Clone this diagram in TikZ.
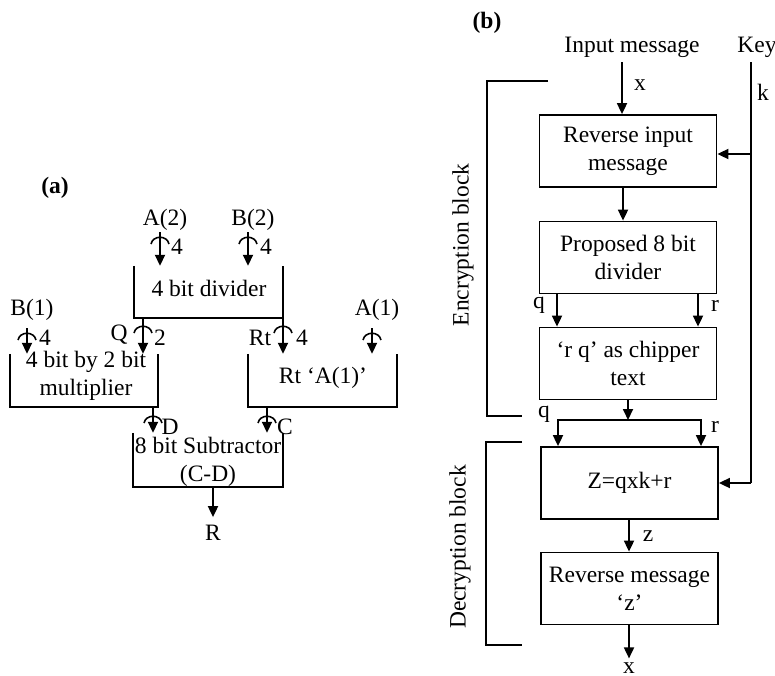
\documentclass[tikz,border=0pt]{standalone}
\usepackage{fontspec}
\setmainfont{Liberation Serif}
\usetikzlibrary{arrows.meta,calc}
\begin{document}
\begin{tikzpicture}[x=1pt,y=-1pt,
  every node/.style={font=\fontsize{23.5}{28}\selectfont, inner sep=0pt},
  ln/.style={line width=1.8pt},
  arr/.style={line width=1.8pt,-{Triangle[length=11pt,width=10pt]}},
  dblarr/.style={line width=1.8pt,{Triangle[length=11pt,width=10pt]}-{Triangle[length=11pt,width=10pt]}},
  bbox/.style={draw, line width=1.8pt, minimum width=177pt, minimum height=72pt, align=center},
  lbl/.style={font=\fontsize{23.5}{28}\selectfont\bfseries},
  bus/.style={line width=1.6pt}
]
\useasboundingbox (0,0) rectangle (775,675);
\newcommand\ushape[1]{\draw[ln] (#1.north west) -- (#1.south west) -- (#1.south east) -- (#1.north east);}
\newcommand\busmark[1]{\draw[bus] ($(#1)+(-9,6)$) .. controls ($(#1)+(-7,-3)$) and ($(#1)+(7,-3)$) .. ($(#1)+(9,6)$);}

% ---------------- panel (a) ----------------
\node[lbl] (lbla) at (55,188) {(a)};
\node (A2) at (165,220) {A(2)};
\node (A2n) at (177,247) {4};
\node (B2) at (253,220) {B(2)};
\node (B2n) at (266,247) {4};
\node[minimum width=149pt, minimum height=52pt] (div) at (208.5,292) {};
\node (divt) at (209,288) {4 bit divider};
\ushape{div}

\node (B1) at (32,310) {B(1)};
\node (B1n) at (45,338) {4};
\node (Ql) at (119,335) {Q};
\node (Qn) at (160,338) {2};
\node (Rtl) at (260,338) {Rt};
\node (Rtn) at (302,338) {4};
\node (A1) at (377,310) {A(1)};

\node[minimum width=148pt, minimum height=53pt] (mul) at (84,380.5) {};
\node[align=center] (mult) at (86,376) {4 bit by 2 bit\\multiplier};
\ushape{mul}
\node[minimum width=149pt, minimum height=53pt] (rtb) at (322.5,380.5) {};
\node (rtt) at (323,378) {Rt ‘A(1)’};
\ushape{rtb}

\node (Dl) at (170,427) {D};
\node (Cl) at (285,427) {C};
\node[minimum width=150pt, minimum height=54pt] (sub) at (208,460) {};
\node[align=center] (subt) at (208,462) {8 bit Subtractor\\(C-D)};
\ushape{sub}
\node (R) at (213,533) {R};

\coordinate (a2s) at (160,232);
\coordinate (b2s) at (248,232);
\coordinate (b1s) at (27,328);
\coordinate (qs) at (143,318);
\coordinate (rts) at (283,318);
\coordinate (a1s) at (372,328);
\coordinate (ds) at (153,407);
\coordinate (cs) at (267,407);
\coordinate (rs) at (213,487);

\draw[arr] (a2s) -- (a2s |- div.north);
\draw[arr] (b2s) -- (b2s |- div.north);
\draw[arr] (b1s) -- (b1s |- mul.north);
\draw[arr] (qs) -- (qs |- mul.north);
\draw[arr] (rts) -- (rts |- rtb.north);
\draw[arr] (a1s) -- (a1s |- rtb.north);
\draw[arr] (ds) -- (ds |- sub.north);
\draw[arr] (cs) -- (cs |- sub.north);
\draw[arr, shorten >=8pt] (rs) -- (R.north);

\coordinate (a2m) at (160,238); \busmark{a2m}
\coordinate (b2m) at (248,238); \busmark{b2m}
\coordinate (b1m) at (27,334); \busmark{b1m}
\coordinate (qm) at (143,327); \busmark{qm}
\coordinate (rtm) at (283,327); \busmark{rtm}
\coordinate (a1m) at (372,334); \busmark{a1m}
\coordinate (dm) at (153,417); \busmark{dm}
\coordinate (cm) at (267,417); \busmark{cm}

% ---------------- panel (b) ----------------
\node[lbl] (lblb) at (487,23) {(b)};
\node (inp) at (632,47) {Input message};
\node (key) at (757,47) {Key};
\node (xl) at (640,85) {x};
\node (kl) at (763,92) {k};

\node[bbox] (b1) at (628,151) {Reverse input\\message};
\node[bbox] (b2) at (628,257.5) {Proposed 8 bit\\divider};
\node[bbox] (b3) at (628,363.5) {‘r q’ as chipper\\text};
\node[bbox] (b4) at (629.5,483) {Z=qxk+r};
\node[bbox] (b5) at (629.5,588.5) {Reverse message\\‘z’};

\node (q1l) at (539,305) {q};
\node (r1l) at (715,306) {r};
\node (q2l) at (544,414) {q};
\node (r2l) at (715,427) {r};
\node (zl) at (648,536) {z};
\node (xo) at (629,668) {x};

\coordinate (xs) at (622,62);
\coordinate (ks) at (751,62);
\coordinate (k1) at (751,154);
\coordinate (k4) at (751,483);
\coordinate (c12) at (623,187);
\coordinate (q1) at (557,293);
\coordinate (r1) at (698,293);
\coordinate (j) at (628,420);
\coordinate (jq) at (558,420);
\coordinate (jr) at (701,420);

\draw[arr] (xs) -- (xs |- b1.north);
\draw[ln] (ks) -- (k4);
\draw[arr] (k1) -- (k1 -| b1.east);
\draw[arr] (k4) -- (k4 -| b4.east);
\draw[arr] (c12) -- (c12 |- b2.north);
\draw[arr] (q1) -- (q1 |- b3.north);
\draw[arr] (r1) -- (r1 |- b3.north);
\draw[arr] (b3.south) -- (j);
\draw[dblarr] (jq |- b4.north) -- (jq) -- (jr) -- (jr |- b4.north);
\draw[arr] (b4.south -| 629,0) -- (b5.north -| 629,0);
\draw[arr, shorten >=4pt] (b5.south -| xo) -- (xo.north);

% brackets
\coordinate (e1) at (548,81);
\coordinate (e2) at (487,81);
\coordinate (e3) at (487,416);
\coordinate (e4) at (522,416);
\draw[ln] (e1) -- (e2) -- (e3) -- (e4);
\node[rotate=90] (enc) at (463,245) {Encryption block};
\coordinate (d1) at (522,442);
\coordinate (d2) at (486,442);
\coordinate (d3) at (486,645);
\coordinate (d4) at (522,645);
\draw[ln] (d1) -- (d2) -- (d3) -- (d4);
\node[rotate=90] (dec) at (460,547) {Decryption block};
\end{tikzpicture}
\end{document}
